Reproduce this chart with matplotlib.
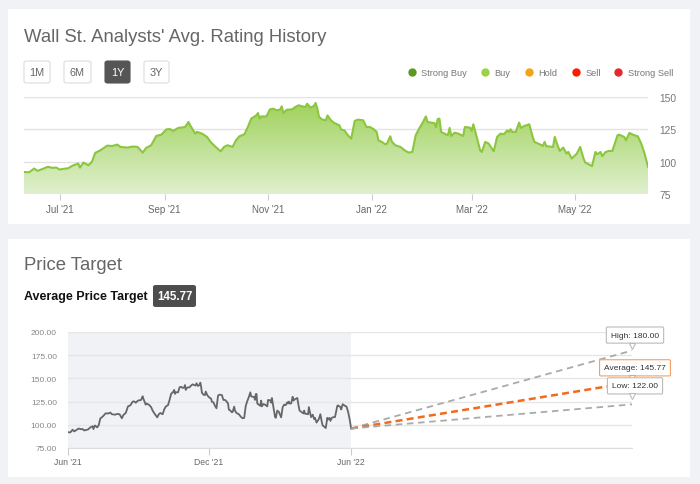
import numpy as np
import pandas as pd
import matplotlib
matplotlib.use("Agg")
import matplotlib.pyplot as plt
import matplotlib.dates as mdates
from matplotlib.patches import Rectangle, FancyBboxPatch
from matplotlib.lines import Line2D
from matplotlib.transforms import offset_copy

plt.rcParams['font.family'] = ['Liberation Sans', 'DejaVu Sans']

# ---------------- data ----------------
price_dates = [
    "2021-06-10", "2021-06-13", "2021-06-16", "2021-06-18", "2021-06-21", "2021-06-24", "2021-06-27", "2021-06-29",
    "2021-07-01", "2021-07-03", "2021-07-06", "2021-07-09", "2021-07-12", "2021-07-13", "2021-07-15", "2021-07-18",
    "2021-07-20", "2021-07-22", "2021-07-25", "2021-07-28", "2021-07-29", "2021-08-01", "2021-08-04", "2021-08-06",
    "2021-08-10", "2021-08-13", "2021-08-16", "2021-08-19", "2021-08-21", "2021-08-24", "2021-08-27", "2021-08-30",
    "2021-09-02", "2021-09-04", "2021-09-06", "2021-09-09", "2021-09-13", "2021-09-15", "2021-09-16", "2021-09-19",
    "2021-09-20", "2021-09-23", "2021-09-26", "2021-09-28", "2021-10-01", "2021-10-04", "2021-10-06", "2021-10-08",
    "2021-10-11", "2021-10-13", "2021-10-15", "2021-10-18", "2021-10-20", "2021-10-22", "2021-10-25", "2021-10-26",
    "2021-10-27", "2021-10-28", "2021-10-31", "2021-11-02", "2021-11-04", "2021-11-06", "2021-11-08", "2021-11-09",
    "2021-11-10", "2021-11-12", "2021-11-15", "2021-11-17", "2021-11-19", "2021-11-21", "2021-11-23", "2021-11-24",
    "2021-11-26", "2021-11-28", "2021-11-29", "2021-11-30", "2021-12-01", "2021-12-03", "2021-12-05", "2021-12-06",
    "2021-12-08", "2021-12-10", "2021-12-13", "2021-12-14", "2021-12-16", "2021-12-18", "2021-12-20", "2021-12-22",
    "2021-12-24", "2021-12-27", "2021-12-29", "2021-12-31", "2022-01-02", "2022-01-04", "2022-01-05", "2022-01-07",
    "2022-01-09", "2022-01-10", "2022-01-12", "2022-01-13", "2022-01-15", "2022-01-18", "2022-01-21", "2022-01-23",
    "2022-01-25", "2022-01-27", "2022-01-29", "2022-01-31", "2022-02-02", "2022-02-03", "2022-02-05", "2022-02-07",
    "2022-02-08", "2022-02-09", "2022-02-10", "2022-02-11", "2022-02-13", "2022-02-15", "2022-02-16", "2022-02-17",
    "2022-02-19", "2022-02-21", "2022-02-24", "2022-02-25", "2022-02-28", "2022-03-01", "2022-03-02", "2022-03-04",
    "2022-03-06", "2022-03-07", "2022-03-09", "2022-03-11", "2022-03-14", "2022-03-16", "2022-03-18", "2022-03-20",
    "2022-03-22", "2022-03-23", "2022-03-24", "2022-03-25", "2022-03-27", "2022-03-29", "2022-03-30", "2022-04-01",
    "2022-04-04", "2022-04-06", "2022-04-07", "2022-04-10", "2022-04-12", "2022-04-13", "2022-04-14", "2022-04-18",
    "2022-04-19", "2022-04-21", "2022-04-22", "2022-04-24", "2022-04-26", "2022-04-27", "2022-04-29", "2022-05-02",
    "2022-05-04", "2022-05-06", "2022-05-07", "2022-05-09", "2022-05-11", "2022-05-13", "2022-05-14", "2022-05-16",
    "2022-05-17", "2022-05-19", "2022-05-21", "2022-05-23", "2022-05-26", "2022-05-27", "2022-05-30", "2022-05-31",
    "2022-06-02", "2022-06-05", "2022-06-07", "2022-06-09", "2022-06-11", "2022-06-13",
]
price_values = [
    92.0, 91.8, 94.7, 92.9, 94.4, 96.0, 95.2, 95.5,
    93.9, 94.4, 94.9, 97.2, 98.5, 95.4, 99.3, 97.2,
    99.8, 106.8, 108.8, 111.4, 112.4, 112.1, 113.2, 111.4,
    110.9, 111.7, 111.4, 107.0, 110.6, 112.7, 119.9, 120.9,
    125.0, 125.2, 123.8, 126.1, 126.8, 130.7, 128.1, 121.7,
    123.0, 121.7, 119.1, 115.3, 111.4, 108.0, 111.4, 112.7,
    111.4, 116.5, 119.6, 121.2, 126.8, 133.3, 135.8, 137.6,
    133.3, 135.0, 135.0, 140.4, 141.0, 139.7, 140.2, 142.8,
    137.6, 140.2, 140.4, 142.3, 143.6, 142.8, 142.3, 144.8,
    141.8, 143.1, 145.4, 141.0, 134.6, 132.5, 132.0, 135.8,
    132.0, 129.9, 128.1, 124.8, 124.2, 120.4, 117.8, 131.5,
    132.5, 132.0, 126.8, 126.8, 125.3, 123.0, 116.5, 115.3,
    113.5, 113.9, 119.6, 115.3, 112.7, 111.4, 108.3, 107.0,
    107.5, 120.4, 125.5, 129.9, 135.0, 130.7, 130.2, 129.9,
    126.8, 133.0, 133.3, 123.0, 121.7, 120.4, 126.1, 119.9,
    122.4, 121.7, 119.9, 126.8, 126.3, 123.8, 128.9, 119.1,
    108.8, 107.5, 115.3, 114.0, 108.0, 119.1, 121.7, 121.2,
    124.2, 123.0, 125.0, 123.0, 123.0, 130.2, 126.1, 127.6,
    128.9, 119.1, 115.3, 113.5, 112.2, 115.3, 112.0, 111.4,
    119.1, 111.4, 108.3, 110.9, 106.2, 107.5, 102.4, 106.2,
    111.4, 102.4, 99.3, 98.0, 96.5, 107.5, 105.7, 107.5,
    104.2, 107.5, 108.3, 108.3, 120.4, 120.9, 119.1, 116.5,
    122.2, 120.4, 119.6, 114.0, 106.2, 96.0,
]

legend_labels = ["Strong Buy", "Buy", "Hold", "Sell", "Strong Sell"]
legend_colors = ["#5b9a1c", "#9bd24a", "#f2a31c", "#ff1a00", "#e8262d"]
range_buttons = ["1M", "6M", "1Y", "3Y"]
active_button = "1Y"

target_names = ["High", "Average", "Low"]
target_values = [180.00, 145.77, 122.00]
average_target = 145.77

rating_ticks = [75, 100, 125, 150]
price_ticks = [75, 100, 125, 150, 175, 200]
price_tick_dates = ["2021-06-10", "2021-12-10", "2022-06-13"]
price_tick_labels = ["Jun '21", "Dec '21", "Jun '22"]

# ---------------- figure ----------------
W, H = 700, 485
fig = plt.figure(figsize=(W / 100, H / 100), dpi=100)
fig.patch.set_facecolor("#f1f2f6")


def fx(x):
    return x / W


def fy(y):
    return 1 - y / H


def add_axes_px(x0, y0, x1, y1):
    return fig.add_axes([fx(x0), fy(y1), (x1 - x0) / W, (y1 - y0) / H])


# white panels
for (x0, y0, x1, y1) in [(8, 10, 690, 225), (8, 240, 690, 478)]:
    fig.patches.append(Rectangle((fx(x0), fy(y1)), (x1 - x0) / W, (y1 - y0) / H,
                                 transform=fig.transFigure, facecolor="white",
                                 edgecolor="none", zorder=-5))

dates = pd.to_datetime(price_dates)
dnum = mdates.date2num(dates)
vals = np.array(price_values)

# ---------------- top panel ----------------
fig.text(fx(24), fy(37), "Wall St. Analysts' Avg. Rating History", fontsize=13.3,
         color="#666666", va="center", ha="left")

btn_x = [(24, 50), (64, 91), (105, 130), (144, 169)]
for (bx0, bx1), lab in zip(btn_x, range_buttons):
    active = lab == active_button
    p = FancyBboxPatch((fx(bx0), fy(84)), (bx1 - bx0) / W, 22 / H,
                       boxstyle="round,pad=0,rounding_size=0.004",
                       transform=fig.transFigure,
                       facecolor="#555555" if active else "white",
                       edgecolor="#555555" if active else "#dcdcdc", lw=0.8, zorder=1)
    fig.patches.append(p)
    fig.text(fx((bx0 + bx1) / 2), fy(73.5), lab, fontsize=7.8,
             color="white" if active else "#666666", ha="center", va="center", zorder=3)

leg_x = [412, 485, 529, 576, 618]
for lx, lab, col in zip(leg_x, legend_labels, legend_colors):
    fig.add_artist(Line2D([fx(lx)], [fy(73)], marker="o", markersize=5,
                          color=col, transform=fig.transFigure, linestyle="none"))
    fig.text(fx(lx + 9.5), fy(73), lab, fontsize=6.7, color="#777777",
             ha="left", va="center")

ax1 = add_axes_px(24, 98, 648, 195)
ax1.set_facecolor("none")
poly = ax1.fill_between(dnum, vals, 75, facecolor="none", edgecolor="none")
top_c = np.array(matplotlib.colors.to_rgb("#a0d25c"))
bot_c = np.array(matplotlib.colors.to_rgb("#e0f0cf"))
t = np.linspace(0, 1, 256)[:, None]
grad = (top_c[None, :] * (1 - t) + bot_c[None, :] * t)[:, None, :]
im = ax1.imshow(grad, extent=[dnum[0], dnum[-1], 75, 146], origin="upper",
                aspect="auto", zorder=1)
im.set_clip_path(poly.get_paths()[0], transform=ax1.transData)
ax1.plot(dnum, vals, color="#8cc63f", lw=1.5, zorder=3)
ax1.set_xlim(dnum[0], dnum[-1])
ax1.set_ylim(75, 150)
ax1.set_yticks(rating_ticks)
ax1.yaxis.tick_right()
ax1.tick_params(axis="y", length=0, labelsize=7.4, labelcolor="#777777", pad=8)
ax1.grid(axis="y", color="#e3e3e3", lw=1)
ax1.set_axisbelow(True)
ax1.xaxis.set_major_locator(mdates.MonthLocator(bymonth=[1, 3, 5, 7, 9, 11]))
ax1.xaxis.set_major_formatter(mdates.DateFormatter("%b '%y"))
ax1.tick_params(axis="x", length=4, color="#cccccc", labelsize=7,
                labelcolor="#666666", pad=3)
for s in ax1.spines.values():
    s.set_visible(False)

# ---------------- bottom panel ----------------
fig.text(fx(24), fy(266), "Price Target", fontsize=13.3, color="#666666",
         va="center", ha="left")
fig.text(fx(24), fy(297), "Average Price Target", fontsize=9, color="#111111",
         fontweight="bold", va="center", ha="left")
fig.patches.append(FancyBboxPatch((fx(153), fy(308)), 43 / W, 22 / H,
                                  boxstyle="round,pad=0,rounding_size=0.004",
                                  transform=fig.transFigure, facecolor="#4d4d4d",
                                  edgecolor="none", zorder=1))
fig.text(fx(174.5), fy(297.5), f"{average_target:.2f}", fontsize=8.3, color="white",
         fontweight="bold", ha="center", va="center", zorder=3)

ax2 = add_axes_px(68, 333, 632, 449)
ax2.set_facecolor("none")
last_d = dnum[-1]
end_d = last_d + 365
ax2.axvspan(dnum[0], last_d, color="#f1f2f6", zorder=0, lw=0)
ax2.plot(dnum, vals, color="#666666", lw=1.3, zorder=3)
proj_colors = ["#aaaaaa", "#f26a1b", "#aaaaaa"]
proj_widths = [1.3, 1.8, 1.3]
proj_dash = [(0, (3.6, 2.6)), (0, (2.8, 1.7)), (0, (3.6, 2.6))]
for v, c, lw_, ds in zip(target_values, proj_colors, proj_widths, proj_dash):
    ax2.plot([last_d, end_d], [vals[-1], v], color=c, lw=lw_,
             linestyle=ds, zorder=4)
ax2.set_xlim(dnum[0], end_d)
ax2.set_ylim(75, 200)
ax2.set_yticks(price_ticks)
ax2.set_yticklabels([f"{v:.2f}" for v in price_ticks])
ax2.tick_params(axis="y", length=0, labelsize=6, labelcolor="#888888", pad=8)
ax2.grid(axis="y", color="#e6e6e6", lw=1)
ax2.set_axisbelow(True)
ax2.set_xticks(mdates.date2num(pd.to_datetime(price_tick_dates)))
ax2.set_xticklabels(price_tick_labels)
ax2.tick_params(axis="x", length=5, color="#cccccc", labelsize=6.2,
                labelcolor="#666666", pad=1.5)
for s in ax2.spines.values():
    s.set_visible(False)
ax2.spines["bottom"].set_visible(True)
ax2.spines["bottom"].set_color("#dddddd")

box_edges = ["#bbbbbb", "#f5a060", "#bbbbbb"]
box_offsets = [15.5, 14.5, 18.5]
tri_offsets = [5.0, 4.5, 8.0]
order = [1, 0, 2]
for i in order:
    name, v, ec, off = target_names[i], target_values[i], box_edges[i], box_offsets[i]
    ax2.annotate(f"{name}: {v:.2f}", xy=(end_d, v), xytext=(3, off),
                 textcoords="offset pixels", ha="center", va="center",
                 fontsize=6, color="#333333", annotation_clip=False, zorder=10 + i,
                 bbox=dict(boxstyle="round,pad=0.55,rounding_size=0.15",
                           fc="white", ec=ec, lw=0.8))
    tr = offset_copy(ax2.transData, fig=fig, x=0, y=tri_offsets[i], units="dots")
    ax2.plot([end_d], [v], marker="v", markersize=4.5, color="white",
             markeredgecolor=ec, markeredgewidth=0.8, transform=tr,
             clip_on=False, zorder=10.5 + i)

fig.savefig("out.png", dpi=100, facecolor=fig.get_facecolor())
